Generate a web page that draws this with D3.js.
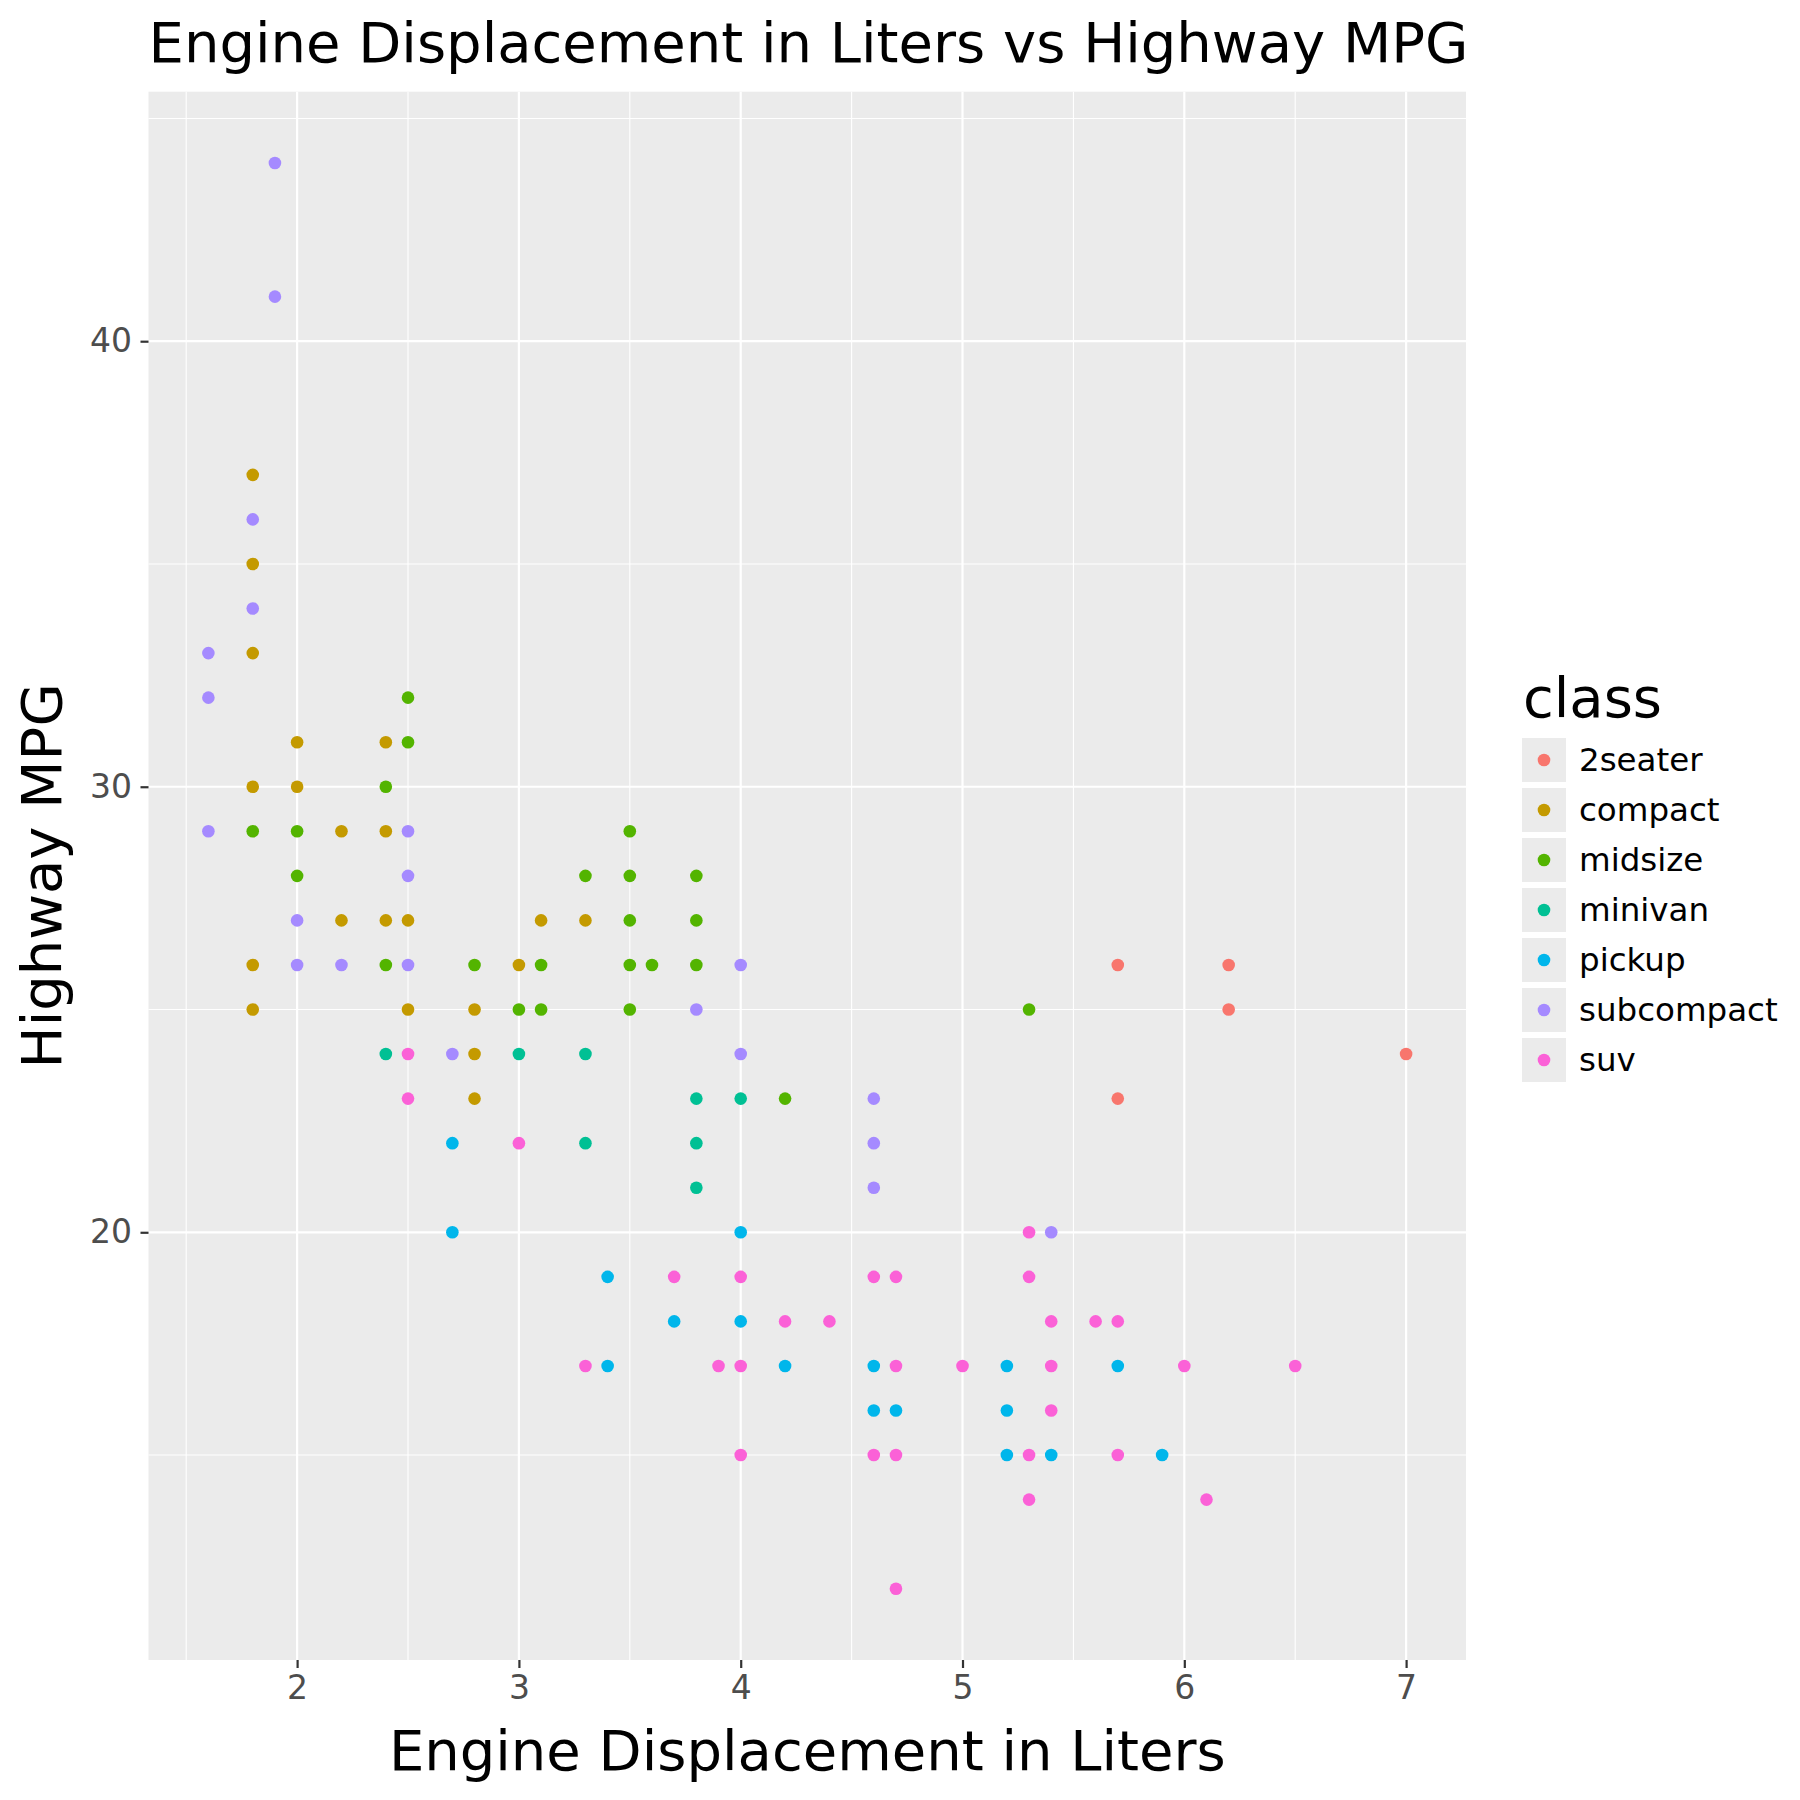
<!DOCTYPE html>
<html>
<head>
<meta charset="utf-8">
<script src="https://cdn.jsdelivr.net/npm/d3@7"></script>
<style>
  body { margin: 0; background: #fff; }
  text { font-family: "DejaVu Sans", sans-serif; }
</style>
</head>
<body>
<script>
// classes in legend order, with the ggplot hue colours
var classNames = ['2seater', 'compact', 'midsize', 'minivan', 'pickup', 'subcompact', 'suv'];
var classColors = ['#F8766D', '#C49A00', '#53B400', '#00C094', '#00B6EB', '#A58AFF', '#FB61D7'];

// [displ, hwy] points, one list per class
var twoseater = [[5.7,26],[5.7,23],[6.2,26],[6.2,25],[7.0,24]];
var compact = [[1.8,37],[1.8,35],[1.8,33],[1.8,30],[1.8,26],[1.8,25],[2.0,31],[2.0,30],[2.2,29],[2.2,27],
  [2.4,31],[2.4,29],[2.4,27],[2.5,27],[2.5,25],[2.8,25],[2.8,24],[2.8,23],[3.0,26],[3.1,27],[3.3,27]];
var midsize = [[1.8,29],[2.0,29],[2.0,28],[2.4,30],[2.4,26],[2.5,32],[2.5,31],[2.8,26],[3.0,25],[3.1,26],
  [3.1,25],[3.3,28],[3.5,29],[3.5,28],[3.5,27],[3.5,26],[3.5,25],[3.6,26],[3.8,28],[3.8,27],[3.8,26],
  [4.2,23],[5.3,25]];
var minivan = [[2.4,24],[3.0,24],[3.3,24],[3.3,22],[3.8,23],[3.8,22],[3.8,21],[4.0,23]];
var pickup = [[2.7,22],[2.7,20],[3.4,19],[3.4,17],[3.7,18],[4.0,20],[4.0,18],[4.2,17],[4.6,17],[4.6,16],
  [4.7,16],[5.2,17],[5.2,16],[5.2,15],[5.4,15],[5.7,17],[5.9,15]];
var subcompact = [[1.6,33],[1.6,32],[1.6,29],[1.8,36],[1.8,34],[1.9,44],[1.9,41],[2.0,27],[2.0,26],[2.2,26],
  [2.5,29],[2.5,28],[2.5,26],[2.7,24],[3.8,25],[4.0,26],[4.0,24],[4.6,23],[4.6,22],[4.6,21],[5.4,20]];
var suv = [[2.5,24],[2.5,23],[3.0,22],[3.3,17],[3.7,19],[3.9,17],[4.0,19],[4.0,17],[4.0,15],[4.2,18],
  [4.4,18],[4.6,19],[4.6,15],[4.7,19],[4.7,17],[4.7,15],[4.7,12],[5.0,17],[5.3,20],[5.3,19],[5.3,15],
  [5.3,14],[5.4,18],[5.4,17],[5.4,16],[5.6,18],[5.7,18],[5.7,15],[6.0,17],[6.1,14],[6.5,17]];

var xTicks = [2, 3, 4, 5, 6, 7];
var xMinor = [1.5, 2.5, 3.5, 4.5, 5.5, 6.5];
var yTicks = [20, 30, 40];
var yMinor = [15, 25, 35, 45];

var classData = [twoseater, compact, midsize, minivan, pickup, subcompact, suv];

// panel box (top is taken by window.top, hence the p prefix)
var pLeft = 148.5, pRight = 1466, pTop = 91.7, pBottom = 1660;

var x = d3.scaleLinear().domain([1.33, 7.27]).range([pLeft, pRight]);
var y = d3.scaleLinear().domain([10.4, 45.6]).range([pBottom, pTop]);
var color = d3.scaleOrdinal().domain(classNames).range(classColors);

var svg = d3.select("body").append("svg")
    .attr("width", 1800)
    .attr("height", 1800);

svg.append("rect")
    .attr("x", pLeft).attr("y", pTop)
    .attr("width", pRight - pLeft).attr("height", pBottom - pTop)
    .attr("fill", "#EBEBEB");

// grid
svg.selectAll("line.xminor").data(xMinor).enter().append("line")
    .attr("class", "xminor")
    .attr("x1", function(d){return x(d);}).attr("x2", function(d){return x(d);})
    .attr("y1", pTop).attr("y2", pBottom)
    .attr("stroke", "#fff").attr("stroke-width", 1.1);
svg.selectAll("line.yminor").data(yMinor).enter().append("line")
    .attr("class", "yminor")
    .attr("y1", function(d){return y(d);}).attr("y2", function(d){return y(d);})
    .attr("x1", pLeft).attr("x2", pRight)
    .attr("stroke", "#fff").attr("stroke-width", 1.1);
svg.selectAll("line.xmajor").data(xTicks).enter().append("line")
    .attr("class", "xmajor")
    .attr("x1", function(d){return x(d);}).attr("x2", function(d){return x(d);})
    .attr("y1", pTop).attr("y2", pBottom)
    .attr("stroke", "#fff").attr("stroke-width", 2.2);
svg.selectAll("line.ymajor").data(yTicks).enter().append("line")
    .attr("class", "ymajor")
    .attr("y1", function(d){return y(d);}).attr("y2", function(d){return y(d);})
    .attr("x1", pLeft).attr("x2", pRight)
    .attr("stroke", "#fff").attr("stroke-width", 2.2);

// points, drawn class by class
classData.forEach(function(points, i){
  svg.append("g").selectAll("circle")
      .data(points)
      .enter().append("circle")
      .attr("cx", function(d){return x(d[0]);})
      .attr("cy", function(d){return y(d[1]);})
      .attr("r", 6.3)
      .attr("fill", color(classNames[i]));
});

// axes
var xAxis = svg.append("g")
    .attr("transform", "translate(0," + pBottom + ")")
    .call(d3.axisBottom(x).tickValues(xTicks).tickSize(8).tickPadding(7.7).tickFormat(d3.format("d")));
var yAxis = svg.append("g")
    .attr("transform", "translate(" + pLeft + ",0)")
    .call(d3.axisLeft(y).tickValues(yTicks).tickSize(8).tickPadding(8.5).tickFormat(d3.format("d")));
[xAxis, yAxis].forEach(function(a){
  a.select(".domain").remove();
  a.selectAll(".tick line").attr("stroke", "#333333").attr("stroke-width", 2.2);
  a.selectAll(".tick text")
      .attr("fill", "#4D4D4D")
      .style("font-family", "DejaVu Sans")
      .style("font-size", "33px");
});

// titles
svg.append("text")
    .attr("x", pLeft).attr("y", 62)
    .attr("font-size", 56)
    .text("Engine Displacement in Liters vs Highway MPG");
svg.append("text")
    .attr("x", (pLeft + pRight) / 2).attr("y", 1770)
    .attr("text-anchor", "middle")
    .attr("font-size", 56)
    .text("Engine Displacement in Liters");
svg.append("text")
    .attr("transform", "translate(61," + (pTop + pBottom) / 2 + ") rotate(-90)")
    .attr("text-anchor", "middle")
    .attr("font-size", 56)
    .text("Highway MPG");

// legend
var legend = svg.append("g");
legend.append("text")
    .attr("x", 1523).attr("y", 716.7)
    .attr("font-size", 56)
    .text("class");
var keys = legend.selectAll("g.key")
    .data(classNames)
    .enter().append("g")
    .attr("class", "key")
    .attr("transform", function(d, i){return "translate(1522," + (738 + i * 50) + ")";});
keys.append("rect")
    .attr("width", 44).attr("height", 44)
    .attr("fill", "#EBEBEB");
keys.append("circle")
    .attr("cx", 22).attr("cy", 22).attr("r", 6.3)
    .attr("fill", function(d){return color(d);});
keys.append("text")
    .attr("x", 57).attr("y", 33)
    .attr("font-size", 32.5)
    .text(function(d){return d;});
</script>
</body>
</html>
